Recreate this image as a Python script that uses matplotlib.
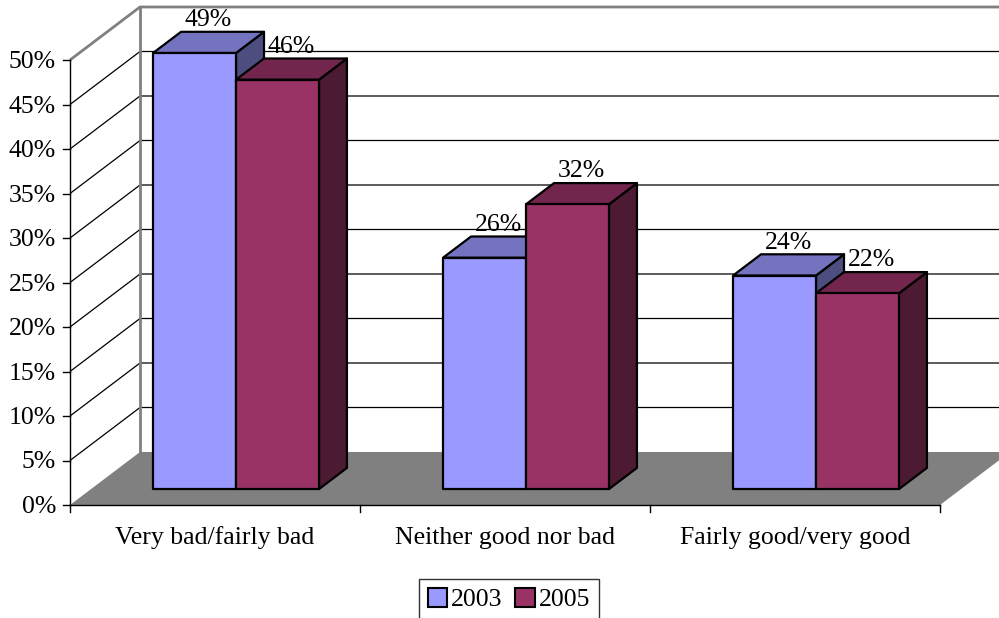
import matplotlib
matplotlib.use("Agg")
import matplotlib.pyplot as plt
from matplotlib.patches import Polygon, Patch

categories = ["Very bad/fairly bad", "Neither good nor bad", "Fairly good/very good"]
series_names = ["2003", "2005"]
values_2003 = [49, 26, 24]
values_2005 = [46, 32, 22]
y_ticks = [0, 5, 10, 15, 20, 25, 30, 35, 40, 45, 50]

FONT = "Liberation Serif"
FS = 18.5

front_cols = ["#9999FF", "#993366"]
top_cols = ["#7373BF", "#73264D"]
side_cols = ["#4D4D80", "#4D1A33"]
GRID_GREY = "#808080"

# depth of the 3-D box expressed in data units (category units, percent)
DX = 70 / 290
DY = 53 / 8.9
BAR_W = 0.286
D0, D1 = 0.3, 0.7
YMAX = 50
PX_X = 3 / 870      # category units per pixel
PX_Y = 50 / 445     # percent per pixel


def proj(x, y, d):
    return (x + d * DX, y + d * DY)


fig = plt.figure(figsize=(9.99, 6.18), dpi=100)
ax = fig.add_axes([0, 0, 1, 1])
ax.set_xlim(-70 * PX_X, 3 + 59 * PX_X)
ax.set_ylim(-113 * PX_Y, 50 + 60 * PX_Y)
ax.axis("off")

ncat = len(categories)

# floor
floor = [proj(0, 0, 0), proj(ncat, 0, 0), proj(ncat, 0, 1), proj(0, 0, 1)]
ax.add_patch(Polygon(floor, closed=True, facecolor="#808080", edgecolor="none", zorder=1))

# back wall and left wall gridlines
for t in y_ticks[1:]:
    col = GRID_GREY if t == YMAX else "black"
    lw = 2 if t == YMAX else 0.9
    xs = [proj(0, t, 0)[0], proj(0, t, 1)[0], proj(ncat, t, 1)[0]]
    ys = [proj(0, t, 0)[1], proj(0, t, 1)[1], proj(ncat, t, 1)[1]]
    ax.plot(xs, ys, color=col, lw=lw, zorder=2, solid_capstyle="butt")
# back wall left edge
p0 = proj(0, 0, 1)
p1 = proj(0, YMAX, 1)
ax.plot([p0[0], p1[0]], [p0[1], p1[1]], color=GRID_GREY, lw=2, zorder=2)

# axes lines and ticks
ax.plot([0, 0], [0, YMAX], color="black", lw=1, zorder=3)
ax.plot([0, ncat], [0, 0], color="black", lw=1, zorder=3)
for t in y_ticks:
    ax.plot([-7 * PX_X, 0], [t, t], color="black", lw=1, zorder=3)
    ax.text(-14 * PX_X, t - 2 * PX_Y, f"{t}%", ha="right", va="center",
            fontsize=FS, family=FONT)
for i in range(ncat + 1):
    ax.plot([i, i], [0, -7 * PX_Y], color="black", lw=1, zorder=3)
for i, c in enumerate(categories):
    ax.text(i + 0.5, -33 * PX_Y, c, ha="center", va="center",
            fontsize=FS, family=FONT)

# bars
for i in range(ncat):
    for s, vals in enumerate([values_2003, values_2005]):
        v = vals[i]
        x0 = i + 0.5 - BAR_W + s * BAR_W
        x1 = x0 + BAR_W
        z = 10 + i * 3 + s
        front = [proj(x0, 0, D0), proj(x1, 0, D0), proj(x1, v, D0), proj(x0, v, D0)]
        top = [proj(x0, v, D0), proj(x1, v, D0), proj(x1, v, D1), proj(x0, v, D1)]
        side = [proj(x1, 0, D0), proj(x1, 0, D1), proj(x1, v, D1), proj(x1, v, D0)]
        for poly, fc in ((side, side_cols[s]), (top, top_cols[s]), (front, front_cols[s])):
            ax.add_patch(Polygon(poly, closed=True, facecolor=fc, edgecolor="black",
                                 lw=1.6, joinstyle="round", zorder=z))
        lx, ly = proj((x0 + x1) / 2, v, (D0 + D1) / 2)
        ax.text(lx, ly + 2.5, f"{v}%", ha="center", va="center",
                fontsize=FS, family=FONT, zorder=20)

handles = [Patch(facecolor=front_cols[k], edgecolor="black", lw=1.5) for k in range(2)]
leg = fig.legend(handles, series_names, loc="upper center",
                 bbox_to_anchor=(509 / 999, 1 - 579 / 618), ncol=2,
                 frameon=True, fancybox=False, edgecolor="black",
                 prop={"family": FONT, "size": FS}, handlelength=0.75,
                 handleheight=0.75, handletextpad=0.15, columnspacing=0.5,
                 borderpad=0.35, borderaxespad=0)
leg.get_frame().set_linewidth(1)

fig.savefig("out.png", dpi=100)
